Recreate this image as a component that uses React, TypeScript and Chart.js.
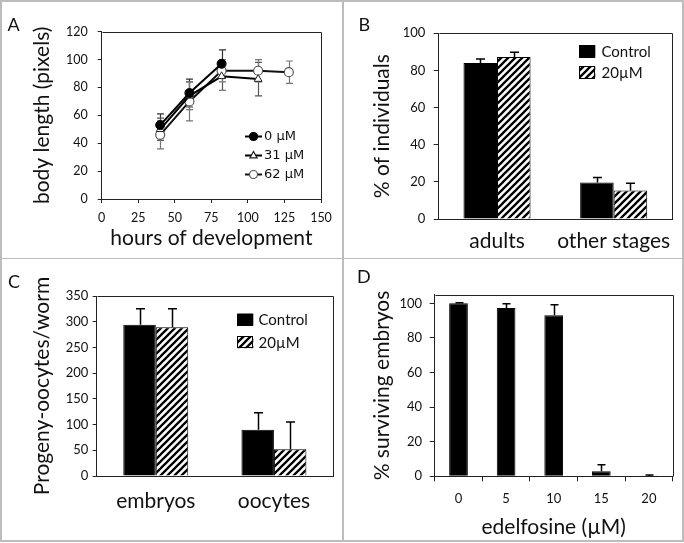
import React, { useEffect, useRef } from 'react';
import { Chart, registerables } from 'chart.js';

Chart.register(...registerables);

// ---------- Panel A data ----------
const seriesLabelsA = ['0 µM', '31 µM', '62 µM'];
const hoursA0 = [40, 60, 82];
const lengthA0 = [53, 76, 97];
const errA0 = [8, 10, 10];
const hoursA31 = [40, 60, 82, 107];
const lengthA31 = [50, 74, 88, 86];
const errA31 = [8, 10, 10, 12];
const hoursA62 = [40, 60, 82, 107, 128];
const lengthA62 = [46, 70, 92, 92, 91];
const errA62 = [10, 14, 8, 8, 8];

// ---------- Panel B data ----------
const groupLabelsBC = ['Control', '20µM'];
const stagesB = ['adults', 'other stages'];
const controlB = [84, 19.6];
const controlErrB = [2.2, 2.7];
const treatedB = [87.3, 15.4];
const treatedErrB = [2.5, 3.8];

// ---------- Panel C data ----------
const progenyC = ['embryos', 'oocytes'];
const controlC = [294, 90];
const controlErrC = [31, 33];
const treatedC = [289, 52];
const treatedErrC = [36, 53];

// ---------- Panel D data ----------
const doseD = ['0', '5', '10', '15', '20'];
const survivalD = [100, 97.3, 93.1, 2.9, 0.2];
const survivalErrD = [0.4, 2.5, 6.1, 3.8, 0.6];
const survivalTicksD = [0, 20, 40, 60, 80, 100];

const FONT = 'Lato';
const TXT = '#111';

function makeHatch(): CanvasPattern | string {
  const c = document.createElement('canvas');
  const s = 7;
  c.width = s;
  c.height = s;
  const g = c.getContext('2d');
  if (!g) return '#888';
  g.fillStyle = '#fff';
  g.fillRect(0, 0, s, s);
  g.strokeStyle = '#000';
  g.lineWidth = 2.3;
  g.beginPath();
  g.moveTo(-1, s + 1);
  g.lineTo(s + 1, -1);
  g.moveTo(-2, 2);
  g.lineTo(2, -2);
  g.moveTo(s - 2, s + 2);
  g.lineTo(s + 2, s - 2);
  g.stroke();
  return g.createPattern(c, 'repeat') || '#888';
}

function drawErrors(chart: any, opts: any) {
  const ctx = chart.ctx;
  const yScale = chart.scales.y;
  chart.data.datasets.forEach((ds: any, i: number) => {
    const errs = ds.errors;
    if (!errs) return;
    const meta = chart.getDatasetMeta(i);
    ctx.save();
    ctx.strokeStyle = ds.errColor || '#000';
    ctx.lineWidth = opts.width || 1.2;
    const cap = opts.cap || 8;
    meta.data.forEach((el: any, j: number) => {
      const d = ds.data[j];
      const v = typeof d === 'object' ? d.y : d;
      const x = Math.round(el.x) + 0.5;
      const yTop = yScale.getPixelForValue(v + errs[j]);
      const yBot = opts.both ? yScale.getPixelForValue(v - errs[j]) : yScale.getPixelForValue(v);
      ctx.beginPath();
      ctx.moveTo(x, yBot);
      ctx.lineTo(x, yTop);
      ctx.moveTo(x - cap / 2, yTop);
      ctx.lineTo(x + cap / 2, yTop);
      if (opts.both) {
        ctx.moveTo(x - cap / 2, yBot);
        ctx.lineTo(x + cap / 2, yBot);
      }
      ctx.stroke();
    });
    ctx.restore();
  });
}

const errorBarPlugin = {
  id: 'errorBars',
  beforeDatasetsDraw(chart: any, _a: any, opts: any) {
    if (opts && opts.under) drawErrors(chart, opts);
  },
  afterDatasetsDraw(chart: any, _a: any, opts: any) {
    if (opts && !opts.under) drawErrors(chart, opts);
  },
};

const framePlugin = {
  id: 'frame',
  afterDatasetsDraw(chart: any) {
    const { ctx, chartArea: a } = chart;
    ctx.save();
    ctx.strokeStyle = '#222';
    ctx.lineWidth = 1;
    const l = Math.round(a.left) + 0.5;
    const r = Math.round(a.right) + 0.5;
    const t = Math.round(a.top) + 0.5;
    const b = Math.round(a.bottom) + 0.5;
    ctx.beginPath();
    ctx.moveTo(l, t);
    ctx.lineTo(r, t);
    ctx.lineTo(r, b);
    ctx.stroke();
    ctx.restore();
  },
};

const lineLegendPlugin = {
  id: 'lineLegend',
  afterDraw(chart: any, _a: any, o: any) {
    const ctx = chart.ctx;
    ctx.save();
    chart.data.datasets.forEach((ds: any, i: number) => {
      const y = o.y0 + i * o.gap;
      ctx.strokeStyle = ds.borderColor;
      ctx.lineWidth = 2;
      ctx.beginPath();
      ctx.moveTo(o.x0, y);
      ctx.lineTo(o.x1, y);
      ctx.stroke();
      const cx = (o.x0 + o.x1) / 2;
      const r = o.r;
      ctx.fillStyle = ds.pointBackgroundColor;
      ctx.strokeStyle = ds.pointBorderColor;
      ctx.lineWidth = 1.2;
      ctx.beginPath();
      if (ds.pointStyle === 'triangle') {
        ctx.moveTo(cx, y - r);
        ctx.lineTo(cx - r * 0.9, y + r * 0.6);
        ctx.lineTo(cx + r * 0.9, y + r * 0.6);
        ctx.closePath();
      } else {
        ctx.arc(cx, y, r, 0, Math.PI * 2);
      }
      ctx.fill();
      ctx.stroke();
      ctx.fillStyle = TXT;
      ctx.font = o.font;
      ctx.textBaseline = 'middle';
      ctx.textAlign = 'left';
      ctx.fillText(ds.label, o.textX, y + 0.5);
    });
    ctx.restore();
  },
};

const boxLegendPlugin = {
  id: 'boxLegend',
  afterDraw(chart: any, _a: any, o: any) {
    const ctx = chart.ctx;
    ctx.save();
    chart.data.datasets.forEach((ds: any, i: number) => {
      const y = o.y0 + i * o.gap;
      ctx.fillStyle = ds.backgroundColor;
      ctx.fillRect(o.x, y, o.w, o.h);
      ctx.strokeStyle = '#000';
      ctx.lineWidth = 1;
      ctx.strokeRect(Math.round(o.x) + 0.5, Math.round(y) + 0.5, Math.round(o.w) - 1, Math.round(o.h) - 1);
      ctx.fillStyle = TXT;
      ctx.font = o.font;
      ctx.textBaseline = 'middle';
      ctx.textAlign = 'left';
      ctx.fillText(ds.label, o.textX, y + o.h / 2 + 0.5);
    });
    ctx.restore();
  },
};

function yAxis(opts: {
  max: number; step: number; title: string; titlePad: number; width: number;
  tickSize: number; tickPad: number; tickLen: number; fixedTicks?: number[];
}) {
  return {
    type: 'linear',
    min: 0,
    max: opts.max,
    ticks: { stepSize: opts.step, font: { family: FONT, size: opts.tickSize }, color: TXT, padding: opts.tickPad },
    grid: { drawOnChartArea: false, tickLength: opts.tickLen, color: '#222' },
    border: { color: '#222', width: 1 },
    title: {
      display: true, text: opts.title, color: TXT,
      font: { family: FONT, size: 21 }, padding: { top: opts.titlePad, bottom: 0 },
    },
    afterBuildTicks: opts.fixedTicks
      ? (s: any) => { s.ticks = (opts.fixedTicks as number[]).map((v) => ({ value: v })); }
      : undefined,
    afterFit: (s: any) => { s.width = opts.width; },
  };
}

function baseOptions(padding: any, plugins: any, scales: any, extra: any = {}) {
  return {
    responsive: false,
    animation: false,
    devicePixelRatio: 1,
    events: [],
    layout: { padding },
    plugins: { legend: { display: false }, tooltip: { enabled: false }, ...plugins },
    scales,
    ...extra,
  };
}

function buildA(): any {
  const mk = (xs: number[], ys: number[]) => xs.map((x, i) => ({ x, y: ys[i] }));
  return {
    type: 'scatter',
    data: {
      datasets: [
        { label: seriesLabelsA[0], data: mk(hoursA0, lengthA0), errors: errA0, errColor: '#333', showLine: true,
          borderColor: '#000', borderWidth: 2, pointStyle: 'circle', pointRadius: 4.5,
          pointBackgroundColor: '#000', pointBorderColor: '#000', pointBorderWidth: 1 },
        { label: seriesLabelsA[1], data: mk(hoursA31, lengthA31), errors: errA31, errColor: '#555', showLine: true,
          borderColor: '#000', borderWidth: 2, pointStyle: 'triangle', pointRadius: 4.5,
          pointBackgroundColor: '#fff', pointBorderColor: '#222', pointBorderWidth: 1 },
        { label: seriesLabelsA[2], data: mk(hoursA62, lengthA62), errors: errA62, errColor: '#777', showLine: true,
          borderColor: '#111', borderWidth: 2, pointStyle: 'circle', pointRadius: 4.5,
          pointBackgroundColor: '#fff', pointBorderColor: '#555', pointBorderWidth: 1.2 },
      ],
    },
    options: baseOptions(
      { top: 31.7, right: 21, left: 0, bottom: 0 },
      {
        errorBars: { under: true, both: true, cap: 7, width: 1.2 },
        lineLegend: { x0: 245, x1: 262, y0: 136.5, gap: 19, r: 4, textX: 264, font: '13px "DejaVu Sans"' },
      },
      {
        x: {
          type: 'linear', min: 0, max: 150,
          ticks: { stepSize: 25, font: { family: FONT, size: 12.5 }, color: TXT, padding: 7, maxRotation: 0 },
          grid: { drawOnChartArea: false, tickLength: 4, color: '#222' },
          border: { color: '#222', width: 1 },
          title: { display: true, text: 'hours of development', color: TXT, font: { family: FONT, size: 21 }, padding: { top: 0, bottom: 6.9 } },
          afterFit: (s: any) => { s.height = 59; },
        },
        y: yAxis({ max: 120, step: 20, title: 'body length (pixels)', titlePad: 29.4, width: 101.7, tickSize: 12.5, tickPad: 10, tickLen: 4 }),
      }
    ),
    plugins: [errorBarPlugin, framePlugin, lineLegendPlugin],
  };
}

function buildGrouped(labels: string[], c: number[], ce: number[], t: number[], te: number[], cfg: any): any {
  const hatch = makeHatch();
  return {
    type: 'bar',
    data: {
      labels,
      datasets: [
        { label: groupLabelsBC[0], data: c, errors: ce, errColor: '#000', backgroundColor: '#000', borderColor: '#000', borderWidth: 1 },
        { label: groupLabelsBC[1], data: t, errors: te, errColor: '#000', backgroundColor: hatch, borderColor: '#000', borderWidth: 1 },
      ],
    },
    options: baseOptions(
      cfg.padding,
      {
        errorBars: { under: false, both: false, cap: 9, width: 1.5 },
        boxLegend: cfg.legend,
      },
      {
        x: {
          type: 'category',
          ticks: { font: { family: FONT, size: 21 }, color: TXT, padding: cfg.xPad, maxRotation: 0, minRotation: 0, autoSkip: false },
          grid: { display: false, drawTicks: false },
          border: { color: '#222', width: 1 },
          afterFit: (s: any) => { s.height = cfg.xHeight; },
        },
        y: yAxis(cfg.y),
      },
      { datasets: { bar: { categoryPercentage: cfg.catPct, barPercentage: 1 } } }
    ),
    plugins: [errorBarPlugin, framePlugin, boxLegendPlugin],
  };
}

function buildB(): any {
  return buildGrouped(stagesB, controlB, controlErrB, treatedB, treatedErrB, {
    padding: { top: 33.3, right: 12, left: 0, bottom: 0 },
    legend: { x: 237.3, y0: 45, gap: 21, w: 16, h: 12.5, textX: 259.5, font: '15px Lato' },
    xPad: 10,
    xHeight: 39,
    catPct: 0.575,
    y: { max: 100, step: 20, title: '% of individuals', titlePad: 27.4, width: 96.7, tickSize: 13, tickPad: 8.4, tickLen: 5 },
  });
}

function buildC(): any {
  return buildGrouped(progenyC, controlC, controlErrC, treatedC, treatedErrC, {
    padding: { top: 38, right: 9, left: 0, bottom: 0 },
    legend: { x: 237.3, y0: 55.5, gap: 22.7, w: 16, h: 12, textX: 258.5, font: '15px Lato' },
    xPad: 13,
    xHeight: 67,
    catPct: 0.55,
    y: { max: 350, step: 50, title: 'Progeny-oocytes/worm', titlePad: 29.4, width: 96.7, tickSize: 13, tickPad: 4.4, tickLen: 4 },
  });
}

function buildD(): any {
  return {
    type: 'bar',
    data: {
      labels: doseD,
      datasets: [
        { label: '% surviving embryos', data: survivalD, errors: survivalErrD, errColor: '#000', backgroundColor: '#000', borderColor: '#000', borderWidth: 1 },
      ],
    },
    options: baseOptions(
      { top: 36.7, right: 11.3, left: 0, bottom: 0 },
      { errorBars: { under: false, both: false, cap: 8, width: 1.5 } },
      {
        x: {
          type: 'category',
          ticks: { font: { family: FONT, size: 13 }, color: TXT, padding: 10, maxRotation: 0, autoSkip: false },
          grid: { offset: true, drawOnChartArea: false, tickLength: 5, color: '#222' },
          border: { color: '#222', width: 1 },
          title: { display: true, text: 'edelfosine (µM)', color: TXT, font: { family: FONT, size: 21 }, padding: { top: 0, bottom: 3.4 } },
          afterFit: (s: any) => { s.height = 66.7; },
        },
        y: yAxis({ max: 105, step: 20, title: '% surviving embryos', titlePad: 27.4, width: 92.7, tickSize: 13, tickPad: 7.7, tickLen: 5, fixedTicks: survivalTicksD }),
      },
      { datasets: { bar: { categoryPercentage: 1, barPercentage: 0.393 } } }
    ),
    plugins: [errorBarPlugin, framePlugin],
  };
}

function ChartPanel(props: { left: number; top: number; width: number; height: number; build: () => any }) {
  const ref = useRef<HTMLCanvasElement>(null);
  useEffect(() => {
    if (!ref.current) return;
    const chart = new Chart(ref.current, props.build());
    return () => chart.destroy();
  }, []);
  return (
    <canvas
      ref={ref}
      width={props.width}
      height={props.height}
      style={{ position: 'absolute', left: props.left, top: props.top, width: props.width, height: props.height }}
    />
  );
}

const letterStyle = (left: number, top: number): React.CSSProperties => ({
  position: 'absolute', left, top, fontFamily: 'Lato', fontSize: 18, lineHeight: '18px', color: '#111',
});

export default function App() {
  const line = '#bdbdbd';
  return (
    <div style={{ position: 'fixed', left: 0, top: 0, width: 684, height: 543, background: '#fff', overflow: 'hidden' }}>
      <ChartPanel left={0} top={0} width={342} height={258} build={buildA} />
      <ChartPanel left={342} top={0} width={342} height={258} build={buildB} />
      <ChartPanel left={0} top={258} width={342} height={285} build={buildC} />
      <ChartPanel left={342} top={258} width={342} height={285} build={buildD} />
      <div style={{ position: 'absolute', left: 0, top: 0, width: 684, height: 542, boxSizing: 'border-box', border: `2px solid ${line}`, pointerEvents: 'none' }} />
      <div style={{ position: 'absolute', left: 342, top: 0, width: 1.5, height: 542, background: line }} />
      <div style={{ position: 'absolute', left: 0, top: 257.5, width: 684, height: 1.5, background: line }} />
      <div style={letterStyle(7.5, 15.3)}>A</div>
      <div style={letterStyle(358.5, 15.3)}>B</div>
      <div style={letterStyle(8, 271.5)}>C</div>
      <div style={letterStyle(357, 266.5)}>D</div>
    </div>
  );
}
